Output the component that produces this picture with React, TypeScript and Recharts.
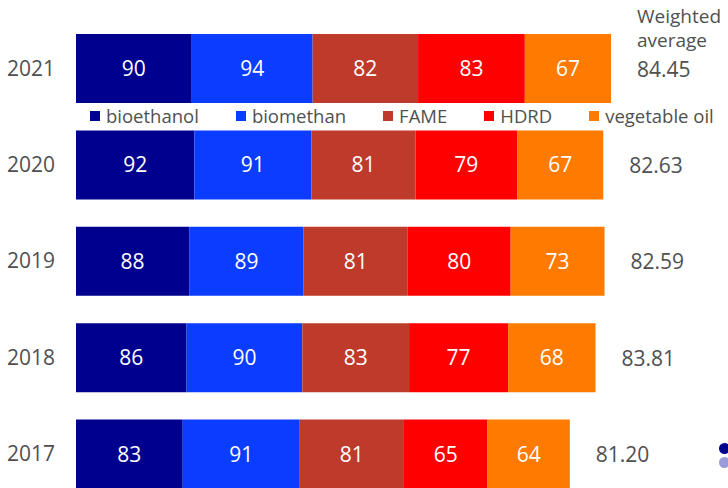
import { BarChart, Bar, XAxis, YAxis, LabelList } from 'recharts';

const years = ['2021', '2020', '2019', '2018', '2017'];
const bioethanol = [90, 92, 88, 86, 83];
const biomethan = [94, 91, 89, 90, 91];
const fame = [82, 81, 81, 83, 81];
const hdrd = [83, 79, 80, 77, 65];
const vegetableOil = [67, 67, 73, 68, 64];
const weightedAverage = ['84.45', '82.63', '82.59', '83.81', '81.20'];

const series = [
  { key: 'bioethanol', name: 'bioethanol', color: '#00008F' },
  { key: 'biomethan', name: 'biomethan', color: '#0A3DFF' },
  { key: 'fame', name: 'FAME', color: '#BE3A2A' },
  { key: 'hdrd', name: 'HDRD', color: '#FF0000' },
  { key: 'vegetableOil', name: 'vegetable oil', color: '#FF7A00' },
];

const data = years.map((year, i) => ({
  year,
  bioethanol: bioethanol[i],
  biomethan: biomethan[i],
  fame: fame[i],
  hdrd: hdrd[i],
  vegetableOil: vegetableOil[i],
  avg: weightedAverage[i],
}));

const FONT = '"Open Sans", "Noto Sans", sans-serif';
const TEXT = '#505050';

// weighted average to the right of each bar, header above the first one
const AvgLabel = (props: any) => {
  const { x, y, width, height, value, index } = props;
  const tx = x + width + 26;
  const cy = y + height / 2;
  return (
    <g>
      {index === 0 && (
        <text x={tx} y={cy - 22} fill={TEXT} fontSize={19} fontFamily={FONT}>
          <tspan x={tx} dy={-24}>Weighted</tspan>
          <tspan x={tx} dy={24}>average</tspan>
        </text>
      )}
      <text x={tx} y={cy} dy={8} fill={TEXT} fontSize={21} fontFamily={FONT}>
        {value}
      </text>
    </g>
  );
};

export default function App() {
  return (
    <div style={{ position: 'absolute', left: 0, top: 0, width: 728, height: 488, overflow: 'hidden', background: '#fff' }}>
      <BarChart
        width={728}
        height={502}
        data={data}
        layout="vertical"
        margin={{ top: 20, right: 9, left: 0, bottom: 0 }}
      >
        <XAxis type="number" domain={[0, 500]} hide />
        <YAxis
          type="category"
          dataKey="year"
          width={76}
          tickLine={false}
          axisLine={false}
          tickSize={0}
          tickMargin={21}
          tick={{ fill: TEXT, fontSize: 21, fontFamily: FONT }}
        />
        {series.map((s, i) => (
          <Bar
            key={s.key}
            dataKey={s.key}
            name={s.name}
            stackId="a"
            fill={s.color}
            barSize={69}
            isAnimationActive={false}
          >
            <LabelList
              dataKey={s.key}
              position="center"
              fill="#fff"
              fontSize={21}
              fontFamily={FONT}
            />
            {i === series.length - 1 && <LabelList dataKey="avg" content={<AvgLabel />} />}
          </Bar>
        ))}
      </BarChart>
      <div
        style={{
          position: 'absolute',
          top: 105,
          left: 90,
          display: 'flex',
          gap: 37,
          fontFamily: FONT,
          fontSize: 18.5,
          lineHeight: '22px',
          color: TEXT,
        }}
      >
        {series.map((s) => (
          <div key={s.key} style={{ display: 'flex', alignItems: 'center', gap: 6, whiteSpace: 'nowrap' }}>
            <span style={{ width: 10, height: 10, background: s.color, display: 'inline-block' }} />
            <span>{s.name}</span>
          </div>
        ))}
      </div>
      <div style={{ position: 'absolute', left: 719, top: 443, width: 11, height: 11, borderRadius: 6, background: '#00008F' }} />
      <div style={{ position: 'absolute', left: 719, top: 457, width: 11, height: 11, borderRadius: 6, background: '#9A9BD8' }} />
    </div>
  );
}
